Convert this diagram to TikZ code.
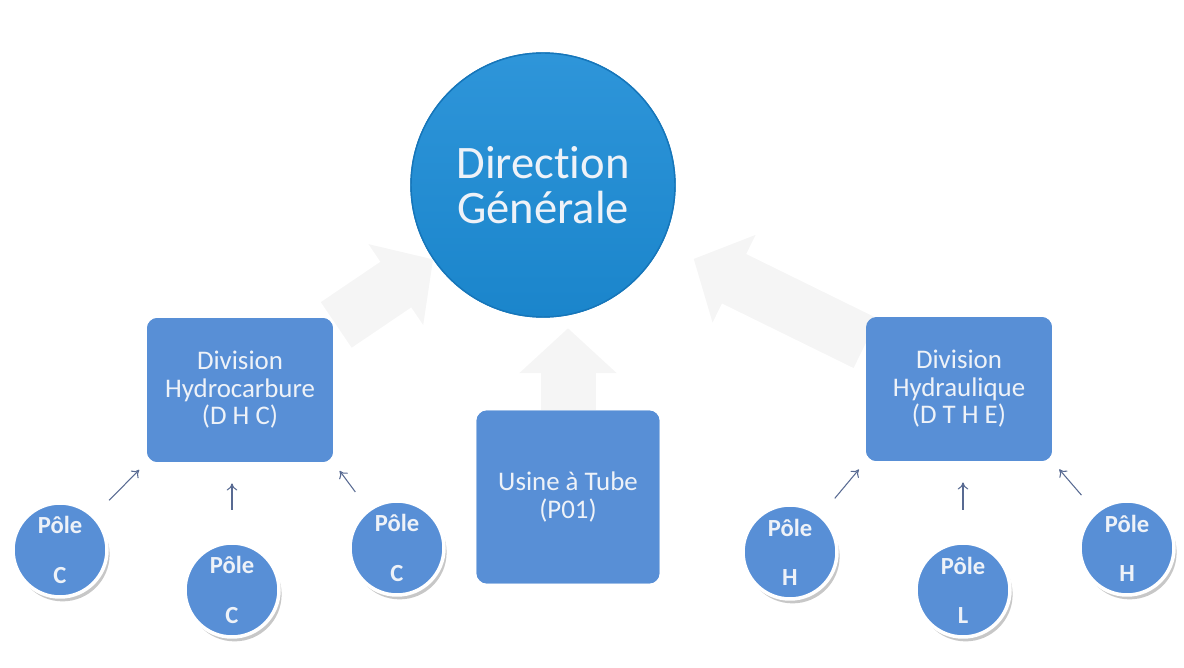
\documentclass[tikz,border=0pt]{standalone}
\usepackage{fontspec}
\setmainfont{Carlito}[Ligatures=NoCommon]
\usetikzlibrary{arrows.meta,shadows}
\definecolor{dgblue}{RGB}{28,140,214}
\definecolor{dgedge}{RGB}{22,118,186}
\definecolor{boxblue}{RGB}{88,143,214}
\definecolor{txtwhite}{RGB}{238,242,248}
\definecolor{fadegray}{RGB}{245,245,245}
\definecolor{linkblue}{RGB}{88,106,146}
\tikzset{
  dgnode/.style={circle, minimum size=5.28cm, inner sep=0pt,
    top color=dgblue!92!white, bottom color=dgblue!95!black, draw=dgedge,
    line width=0.8pt, text=txtwhite, align=center,
    font=\fontsize{26.5}{25.5}\selectfont},
  divbox/.style={rectangle, rounded corners=6pt, fill=boxblue,
    minimum width=3.72cm, minimum height=2.88cm, inner sep=0pt,
    text=txtwhite, align=center, font=\fontsize{15.3}{15.6}\selectfont},
  polenode/.style={circle, minimum size=1.88cm, inner sep=0pt, fill=boxblue,
    draw=white, line width=2pt, text=txtwhite, align=center,
    font=\fontsize{14}{28}\selectfont\bfseries,
    drop shadow={shadow xshift=1.5pt, shadow yshift=-2.5pt,
      fill=black, opacity=0.22}},
  fadearrow/.style={line width=1.1cm, draw=fadegray,
    -{Triangle[length=0.9cm, width=1.9cm]}},
  smallarrow/.style={draw=linkblue, line width=0.6pt, -{To[length=4pt, width=6pt]}}
}
\begin{document}
\begin{tikzpicture}[x=0.02cm, y=-0.02cm]
  \useasboundingbox (0,0) rectangle (1184,668);

  % faint block arrows towards the top
  \coordinate (dgc) at (543,185);
  \node[divbox] (dhc) at (240,390) {};
  \node[divbox] (dthe) at (959,389) {};
  \node[divbox, minimum width=3.66cm, minimum height=3.46cm] (usine) at (568,497) {};
  \node[dgnode] (dg) at (dgc) {};
  \draw[fadearrow, shorten <=2pt] (dhc) -- (dg);
  \draw[fadearrow, shorten >=20pt] (dthe) -- (dg);
  \draw[fadearrow, shorten >=6pt] (usine) -- (usine |- dg.south);

  % main boxes
  \node[dgnode] at (dgc) {Direction\\Générale};
  \node[divbox] at (dhc) {Division\\Hydrocarbure\\(D H C)};
  \node[divbox] at (dthe) {Division\\Hydraulique\\(D T H E)};
  \node[divbox, minimum width=3.66cm, minimum height=3.46cm] at (usine) {Usine à Tube\\(P01)};

  % poles
  \node[polenode] (pc1) at (60,550) {Pôle\\C};
  \node[polenode] (pc2) at (232,590) {Pôle\\C};
  \node[polenode] (pc3) at (397,548) {Pôle\\C};
  \node[polenode] (ph1) at (790,552) {Pôle\\H};
  \node[polenode] (pl) at (963,590) {Pôle\\L};
  \node[polenode] (ph2) at (1127,548) {Pôle\\H};

  % links to the divisions
  \draw[smallarrow, shorten <=12pt, shorten >=6pt] (pc1) -- (dhc.south west);
  \draw[smallarrow, shorten <=18pt, shorten >=12pt] (pc2.north) -- (pc2.north |- dhc.south);
  \draw[smallarrow, shorten <=12pt, shorten >=6pt] (pc3) -- (dhc.south east);
  \draw[smallarrow, shorten <=12pt, shorten >=6pt] (ph1) -- (dthe.south west);
  \draw[smallarrow, shorten <=18pt, shorten >=12pt] (pl.north) -- (pl.north |- dthe.south);
  \draw[smallarrow, shorten <=12pt, shorten >=6pt] (ph2) -- (dthe.south east);
\end{tikzpicture}
\end{document}
